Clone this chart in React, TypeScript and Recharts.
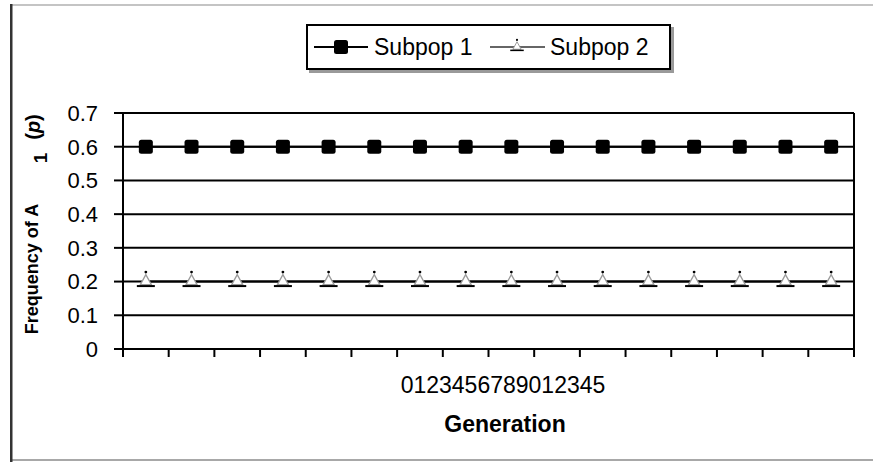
import React from 'react';
import { LineChart, Line, XAxis, YAxis, CartesianGrid, ReferenceLine } from 'recharts';

const generations = ['0', '1', '2', '3', '4', '5', '6', '7', '8', '9', '0', '1', '2', '3', '4', '5'];
const subpop1 = [0.6, 0.6, 0.6, 0.6, 0.6, 0.6, 0.6, 0.6, 0.6, 0.6, 0.6, 0.6, 0.6, 0.6, 0.6, 0.6];
const subpop2 = [0.2, 0.2, 0.2, 0.2, 0.2, 0.2, 0.2, 0.2, 0.2, 0.2, 0.2, 0.2, 0.2, 0.2, 0.2, 0.2];
const yTicks = [0, 0.1, 0.2, 0.3, 0.4, 0.5, 0.6, 0.7];
const seriesNames = ['Subpop 1', 'Subpop 2'];
const xTitle = 'Generation';

const data = generations.map((g, i) => ({ pos: i + 0.5, gen: g, s1: subpop1[i], s2: subpop2[i] }));
const xTicks = Array.from({ length: generations.length + 1 }, (_, i) => i);

const FONT = 'Liberation Sans, Arial, Helvetica, sans-serif';
const W = 873;
const H = 462;

const SquareDot = (props: any) => {
  const { cx, cy } = props;
  if (cx == null || cy == null) return <g />;
  return <rect x={cx - 7} y={cy - 7} width={14} height={14} rx={2.5} fill="#000" />;
};

const TriDot = (props: any) => {
  const { cx, cy } = props;
  if (cx == null || cy == null) return <g />;
  return (
    <g>
      <polygon
        points={`${cx},${cy - 7} ${cx - 5.5},${cy + 3} ${cx + 5.5},${cy + 3}`}
        fill="#fff"
        stroke="#9a9a9a"
        strokeWidth={1.3}
      />
      <circle cx={cx} cy={cy - 9.5} r={1.4} fill="#000" />
      <line x1={cx - 9} x2={cx + 9} y1={cy + 4.5} y2={cy + 4.5} stroke="#000" strokeWidth={2} />
    </g>
  );
};

const YLabel = () => (
  <g fontFamily={FONT} fill="#000">
    <text x={38} y={269} transform="rotate(-90 38 269)" textAnchor="middle" fontSize={18} fontWeight="bold">
      Frequency of A
    </text>
    <text x={47} y={158} transform="rotate(-90 47 158)" textAnchor="middle" fontSize={19} fontWeight="bold">
      1
    </text>
    <text x={40} y={127} transform="rotate(-90 40 127)" textAnchor="middle" fontSize={20} fontWeight="bold">
      (<tspan fontStyle="italic">p</tspan>)
    </text>
  </g>
);

const XLabel = () => (
  <g fontFamily={FONT} fill="#000">
    <text x={503} y={393} textAnchor="middle" fontSize={23}>
      {generations.join('')}
    </text>
    <text x={505} y={432} textAnchor="middle" fontSize={23} fontWeight="bold">
      {xTitle}
    </text>
  </g>
);

export default function App() {
  return (
    <div style={{ position: 'absolute', left: 0, top: 0, width: W, height: H, background: '#fff' }}>
      <LineChart
        width={W}
        height={H}
        data={data}
        margin={{ top: 113, right: 19, bottom: 53, left: 0 }}
        style={{ fontFamily: FONT }}
      >
        <CartesianGrid horizontal vertical={false} stroke="#000" strokeWidth={2} strokeOpacity={1} />
        <XAxis
          type="number"
          dataKey="pos"
          domain={[0, generations.length]}
          ticks={xTicks}
          interval={0}
          tickFormatter={() => ''}
          tickSize={8}
          height={60}
          axisLine={{ stroke: '#000', strokeWidth: 2 }}
          tickLine={{ stroke: '#000', strokeWidth: 2 }}
          label={{ content: () => <XLabel /> }}
        />
        <YAxis
          type="number"
          domain={[0, 0.7]}
          ticks={yTicks}
          width={123}
          tickSize={9}
          tickMargin={16}
          interval={0}
          axisLine={{ stroke: '#000', strokeWidth: 2 }}
          tickLine={{ stroke: '#000', strokeWidth: 2 }}
          tick={{ fill: '#000', fontSize: 22, fontFamily: FONT }}
          tickFormatter={(v: number) => String(v)}
          label={{ content: () => <YLabel /> }}
        />
        <ReferenceLine x={generations.length} stroke="#000" strokeWidth={2} ifOverflow="visible" />
        <Line
          type="linear"
          dataKey="s1"
          name={seriesNames[0]}
          stroke="#000"
          strokeWidth={2}
          dot={<SquareDot />}
          isAnimationActive={false}
        />
        <Line
          type="linear"
          dataKey="s2"
          name={seriesNames[1]}
          stroke="#000"
          strokeWidth={2}
          dot={<TriDot />}
          isAnimationActive={false}
        />
      </LineChart>
      <svg
        width={W}
        height={H}
        style={{ position: 'absolute', left: 0, top: 0, pointerEvents: 'none' }}
      >
        <rect x={11} y={4} width={W - 11} height={2} fill="#c4c4c4" />
        <rect x={11} y={459} width={W - 11} height={2} fill="#a8a8a8" />
        <rect x={10} y={4} width={2.5} height={H - 4} fill="#333" />
        <g fontFamily={FONT}>
          <rect x={309} y={27} width={365} height={46} fill="#9a9a9a" />
          <rect x={307} y={25} width={363} height={44} fill="#fff" stroke="#000" strokeWidth={2} />
          <line x1={314} x2={368} y1={47} y2={47} stroke="#000" strokeWidth={2} />
          <SquareDot cx={341} cy={47} />
          <text x={374} y={55} fontSize={23} fill="#000">{seriesNames[0]}</text>
          <line x1={490} x2={545} y1={47} y2={47} stroke="#333" strokeWidth={1.3} />
          <g transform="translate(517 47) scale(0.75) translate(-517 -47)">
            <TriDot cx={517} cy={47} />
          </g>
          <text x={550} y={55} fontSize={23} fill="#000">{seriesNames[1]}</text>
        </g>
      </svg>
    </div>
  );
}
